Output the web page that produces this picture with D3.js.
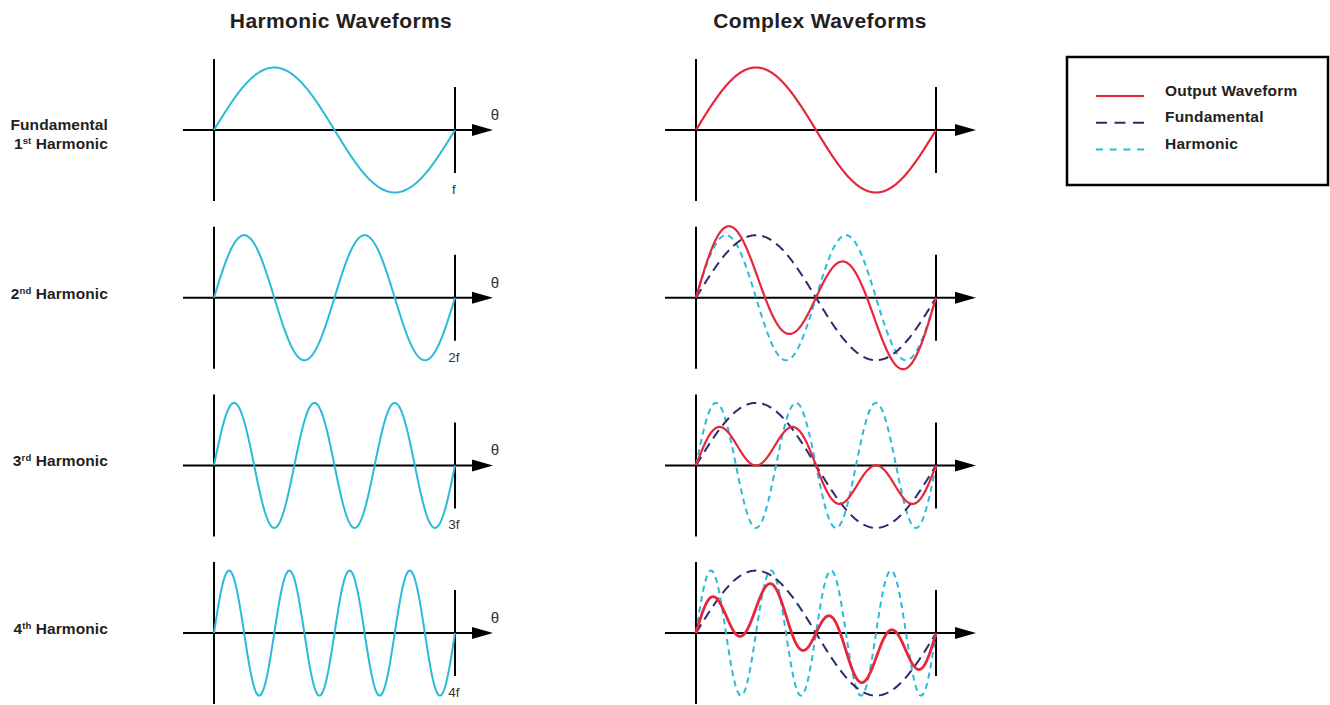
<!DOCTYPE html>
<html>
<head>
<meta charset="utf-8">
<script src="https://cdn.jsdelivr.net/npm/d3@7"></script>
<style>
  html, body { margin: 0; padding: 0; background: #fff; }
  svg { display: block; font-family: "Liberation Sans", Arial, Helvetica, sans-serif; }
</style>
</head>
<body>
<svg id="chart" width="1330" height="705"></svg>
<script>
// ---- data ----
const columnTitles = ["Harmonic Waveforms", "Complex Waveforms"];
const harmonicOrders = [1, 2, 3, 4];
const rowLabelMain = [["Fundamental", "1"], ["2"], ["3"], ["4"]];
const rowLabelSup = ["st", "nd", "rd", "th"];
const freqLabels = ["f", "2f", "3f", "4f"];
const fundamentalWeight = [1, 0.4, 0.4, 0.4];   // share of fundamental in output waveform
const harmonicWeight = [0, 0.85, 0.4, 0.42];     // share of harmonic in output waveform
const showComponents = [false, true, true, true];
const legendLabels = ["Output Waveform", "Fundamental", "Harmonic"];
const axisLabel = "θ";

// ---- styles ----
const C_CYAN = "#2bbad8", C_RED = "#e8263a", C_NAVY = "#2f2a6e", C_TEXT = "#231f20";

const svg = d3.select("#chart");
const TWO_PI = 2 * Math.PI;
const thetas = d3.range(0, 401).map(i => i / 400 * TWO_PI);

const rowY = i => 130 + i * 167.7;
const amp = 62.5;

const panels = [
  { x0: 214, x1: 455, axisStart: 183, tip: 493 },
  { x0: 696, x1: 936, axisStart: 665, tip: 976 }
];

// titles
svg.selectAll("text.title").data(columnTitles).join("text")
  .attr("class", "title")
  .attr("x", (d, i) => i === 0 ? 341 : 820)
  .attr("y", 28)
  .attr("text-anchor", "middle")
  .attr("font-size", 21).attr("letter-spacing", 0.4).attr("font-weight", "bold").attr("fill", C_TEXT)
  .text(d => d);

const line = (xs, ys) => d3.line().x(d => xs(d[0])).y(d => ys(d[1])).curve(d3.curveLinear);

const LBL_SIZE = 15.5;
harmonicOrders.forEach((n, i) => {
  const cy = rowY(i);
  const ys = d3.scaleLinear().domain([-1, 1]).range([cy + amp, cy - amp]);

  // row label
  const lbl = svg.append("g");
  if (i === 0) {
    lbl.append("text").attr("x", 108).attr("y", cy - 0.5).attr("text-anchor", "end")
      .attr("font-size", LBL_SIZE).attr("font-weight", "bold").attr("fill", C_TEXT)
      .attr("letter-spacing", 0.1)
      .text(rowLabelMain[0][0]);
  }
  const t = lbl.append("text").attr("x", 108).attr("y", i === 0 ? cy + 18.5 : cy + 1)
    .attr("text-anchor", "end").attr("font-size", LBL_SIZE).attr("font-weight", "bold").attr("fill", C_TEXT)
    .attr("letter-spacing", 0.1);
  const mainNum = i === 0 ? rowLabelMain[0][1] : rowLabelMain[i][0];
  t.append("tspan").text(mainNum);
  t.append("tspan").attr("font-size", 9.5).attr("dy", -5).text(rowLabelSup[i]);
  t.append("tspan").attr("dy", 5).text(" Harmonic");

  panels.forEach((p, pi) => {
    const xs = d3.scaleLinear().domain([0, TWO_PI]).range([p.x0, p.x1]);
    const g = svg.append("g");

    // vertical lines
    g.append("line").attr("x1", xs(0)).attr("x2", xs(0)).attr("y1", cy - 71).attr("y2", cy + 71)
      .attr("stroke", "#000").attr("stroke-width", 2);
    g.append("line").attr("x1", xs(TWO_PI)).attr("x2", xs(TWO_PI)).attr("y1", cy - 43).attr("y2", cy + 43)
      .attr("stroke", "#000").attr("stroke-width", 2);
    // horizontal axis
    g.append("line").attr("x1", p.axisStart).attr("x2", p.tip - 18).attr("y1", cy).attr("y2", cy)
      .attr("stroke", "#000").attr("stroke-width", 2);
    g.append("path")
      .attr("d", `M${p.tip - 21},${cy - 6}L${p.tip},${cy}L${p.tip - 21},${cy + 6}Z`)
      .attr("fill", "#000");

    if (pi === 0) {
      g.append("path")
        .datum(thetas.map(th => [th, Math.sin(n * th)]))
        .attr("d", line(xs, ys))
        .attr("fill", "none").attr("stroke", C_CYAN).attr("stroke-width", 2);
      g.append("text").attr("x", 495).attr("y", cy - 10).attr("text-anchor", "middle")
        .attr("font-size", 15).attr("fill", "#333").text(axisLabel);
      g.append("text").attr("x", 454).attr("y", cy + 64).attr("text-anchor", "middle")
        .attr("font-size", 13.5).attr("fill", "#333").text(freqLabels[i]);
    } else {
      if (showComponents[i]) {
        g.append("path")
          .datum(thetas.map(th => [th, Math.sin(n * th)]))
          .attr("d", line(xs, ys))
          .attr("fill", "none").attr("stroke", C_CYAN).attr("stroke-width", 2)
          .attr("stroke-dasharray", "6,4.5");
        g.append("path")
          .datum(thetas.map(th => [th, Math.sin(th)]))
          .attr("d", line(xs, ys))
          .attr("fill", "none").attr("stroke", C_NAVY).attr("stroke-width", 2)
          .attr("stroke-dasharray", "10,6");
      }
      g.append("path")
        .datum(thetas.map(th => [th, fundamentalWeight[i] * Math.sin(th) + harmonicWeight[i] * Math.sin(n * th)]))
        .attr("d", line(xs, ys))
        .attr("fill", "none").attr("stroke", C_RED).attr("stroke-width", i === 3 ? 2.8 : 2.2);
    }
  });
});

// legend
const lg = svg.append("g");
lg.append("rect").attr("x", 1067).attr("y", 57).attr("width", 261).attr("height", 128)
  .attr("fill", "none").attr("stroke", "#000").attr("stroke-width", 2.5);
const legendStyles = [
  { color: C_RED, dash: null },
  { color: C_NAVY, dash: "11,7.5" },
  { color: C_CYAN, dash: "7,6.7" }
];
legendLabels.forEach((lab, k) => {
  const ly = 96 + k * 26.7;
  lg.append("line").attr("x1", 1096).attr("x2", 1144).attr("y1", ly).attr("y2", ly)
    .attr("stroke", legendStyles[k].color).attr("stroke-width", 2)
    .attr("stroke-dasharray", legendStyles[k].dash);
  lg.append("text").attr("x", 1165).attr("y", ly - 0.5)
    .attr("font-size", 15.5).attr("letter-spacing", 0.2).attr("font-weight", "bold").attr("fill", C_TEXT).text(lab);
});
</script>
</body>
</html>
